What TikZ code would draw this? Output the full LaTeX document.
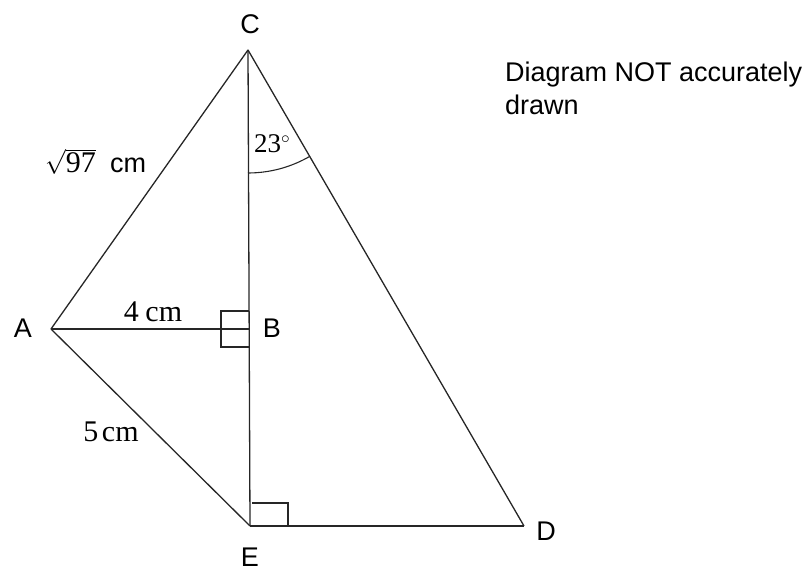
\documentclass[tikz,border=0pt]{standalone}
\usepackage{amsmath}
\usepackage{fontspec}
\setmainfont{Liberation Serif}
\setsansfont{Liberation Sans}
\begin{document}
\begin{tikzpicture}[x=1pt,y=1pt,
  edge/.style={line width=1.3pt, black!85},
  tick/.style={line width=1.1pt, black!85},
  lbl/.style={font=\sffamily\fontsize{27}{27}\selectfont, inner sep=0pt},
  msr/.style={font=\fontsize{30}{30}\selectfont, inner sep=0pt},
  note/.style={font=\sffamily\fontsize{27}{27}\selectfont, inner sep=0pt, anchor=base west}]
\useasboundingbox (0,0) rectangle (812,572);
% points
\coordinate (C) at (248,522);
\coordinate (A) at (51,243);
\coordinate (B) at (249,243);
\coordinate (E) at (250,46);
\coordinate (D) at (524,46);
% edges
\draw[edge] (C) -- (E);
\draw[edge] (C) -- (A);
\draw[edge] (A) -- (B);
\draw[edge] (A) -- (E);
\draw[edge] (E) -- (D);
\draw[edge] (C) -- (D);
% right angle marks
\draw[tick] (249,261) -- (221,261) -- (221,225) -- (249,225);
\draw[tick] (252,69) -- (288,69) -- (288,46);
% angle arc at C
\draw[tick] ([shift={(-90:123pt)}]C) arc[start angle=-90, end angle=-60, radius=123pt];
% vertex labels
\node[lbl] (lC) at (250,548) {C};
\node[lbl] (lA) at (23,244) {A};
\node[lbl] (lB) at (272,244) {B};
\node[lbl] (lE) at (250,15) {E};
\node[lbl] (lD) at (546,41) {D};
% measures
\node[msr, anchor=base] (m4) at (153,250) {4\hspace{0.22em}cm};
\node[msr, anchor=base] (m5) at (111,130) {5\hspace{0.12em}cm};
\node[msr, font=\fontsize{27}{27}\selectfont, anchor=base west] (ang) at (254,419) {23$^{\circ}$};
\node[msr, anchor=base west] (sq) at (45,399) {$\sqrt{\text{97}}$};
\node[lbl, anchor=base west] (cm) at (110,399) {cm};
% note
\node[note] (n1) at (505,490) {Diagram NOT accurately};
\node[note] (n2) at (505,457) {drawn};
\end{tikzpicture}
\end{document}
